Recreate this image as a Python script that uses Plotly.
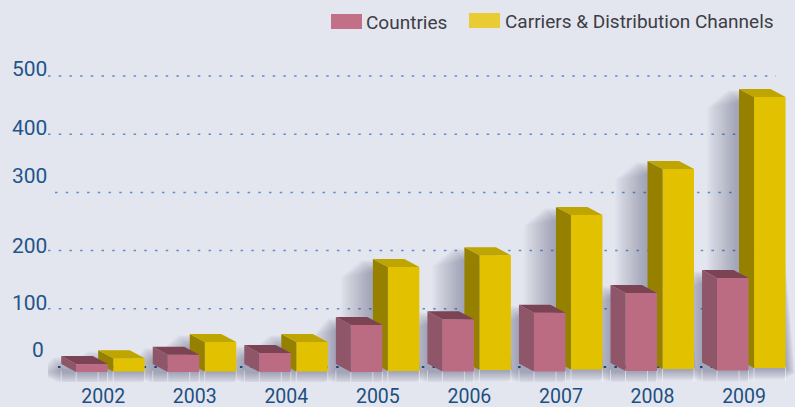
import plotly.graph_objects as go

years = ["2002", "2003", "2004", "2005", "2006", "2007", "2008", "2009"]
countries = [5, 21, 24, 72, 82, 93, 127, 153]
carriers = [15, 43, 43, 172, 192, 261, 340, 464]
countries_base = [-8.5, -8.5, -8.5, -8.5, -7.7, -7.7, -6.9, -6]
carriers_base = [-7.7, -7.7, -7.7, -6.9, -5.2, -4.3, -3.4, -1.7]
y_ticks = [0, 100, 200, 300, 400, 500]
y_label_shift = [17, 6, 5, 16, 6, 7]

W, H = 795, 407
L, R, T, B = 48, 0, 0, 25
PX_X = 91.55
PX_Y = 0.582
C0 = 103.2
Y0 = 367
xr = [(L - C0) / PX_X, (W - R - C0) / PX_X]
yr = [(Y0 - (H - B)) / PX_Y, (Y0 - T) / PX_Y]
xs = list(range(len(years)))
dx, dy = 15 / PX_X, 8 / PX_Y
BW = 31.5 / PX_X
OFF_P = -27 / PX_X
OFF_Y = 10 / PX_X


def poly(points_list):
    X, Y = [], []
    for pts in points_list:
        X += [p[0] for p in pts] + [pts[0][0], None]
        Y += [p[1] for p in pts] + [pts[0][1], None]
    return X, Y


def faces(vals, bases, off, color_side, color_top, axis, name):
    side, top = [], []
    for i, (v, b) in enumerate(zip(vals, bases)):
        l = i + off
        r = l + BW
        side.append([(l, b), (l - dx, b + dy), (l - dx, v + dy), (l, v)])
        top.append([(l, v), (l - dx, v + dy), (r - dx, v + dy), (r, v)])
    out = []
    for pts, col, nm in ((side, color_side, "side"), (top, color_top, "top")):
        X, Y = poly(pts)
        out.append(go.Scatter(x=X, y=Y, fill="toself", fillcolor=col, mode="lines",
                              line=dict(width=0, color=col), yaxis=axis, hoverinfo="skip",
                              showlegend=False, name=f"{name} {nm}"))
    return out


fig = go.Figure()

# soft shadows, lowest layer
for k in range(32, 0, -2):
    a = 0.024
    pts = []
    for vals, bases, off, grow in ((carriers, carriers_base, OFF_Y, 1.0), (countries, countries_base, OFF_P, 0.7)):
        for i, (v, b) in enumerate(zip(vals, bases)):
            l = i + off
            r = l + BW
            ex = k * grow / PX_X
            ey = k * 0.36 / PX_Y
            ytop = v + dy - (14 - 0.4 * k) / PX_Y
            pts.append([(l - dx - ex * 0.35, ytop), (r - dx, ytop), (r + 0.3 * ex, b - ey * 0.5),
                        (r - 0.1 * ex, b - ey), (l - dx, b - ey), (l - dx - ex * 0.8, b - ey * 0.35),
                        (l - dx - ex, b),
                        (l - dx - ex, max(ytop - k * 0.55 / PX_Y, b))])
    X, Y = poly(pts)
    col = f"rgba(50,60,85,{a})"
    fig.add_trace(go.Scatter(x=X, y=Y, fill="toself", fillcolor=col, mode="lines",
                             line=dict(width=0, color=col), hoverinfo="skip", showlegend=False))

# faint reflections under the bars
sx, sy = [], []
for vals, bases, off in ((carriers, carriers_base, OFF_Y), (countries, countries_base, OFF_P)):
    for i, b in enumerate(bases):
        for e in (i + off - dx, i + off, i + off + BW):
            sx += [e, e, None]
            sy += [b + 2, yr[0], None]
fig.add_trace(go.Scatter(x=sx, y=sy, mode="lines", line=dict(color="rgba(245,247,250,0.55)", width=1),
                         hoverinfo="skip", showlegend=False))

for t in faces(carriers, carriers_base, OFF_Y, "#958000", "#bfa500", "y2", "Carriers"):
    fig.add_trace(t)
fig.add_trace(go.Bar(x=xs, y=[v - b for v, b in zip(carriers, carriers_base)], base=carriers_base,
                     width=BW, offset=OFF_Y, marker=dict(color="#e2c200", line=dict(width=0)),
                     name="Carriers & Distribution Channels", yaxis="y2", showlegend=False))
for t in faces(countries, countries_base, OFF_P, "#8f5568", "#7c4355", "y3", "Countries"):
    fig.add_trace(t)
fig.add_trace(go.Bar(x=xs, y=[v - b for v, b in zip(countries, countries_base)], base=countries_base,
                     width=BW, offset=OFF_P, marker=dict(color="#bb6c83", line=dict(width=0)),
                     name="Countries", yaxis="y3", showlegend=False))

shapes = []
for v in y_ticks:
    start = 55 if v == 300 else 58 if v == 0 else 48
    shapes.append(dict(type="line", xref="x", yref="y", layer="below", x0=(start - C0) / PX_X, x1=(776 - C0) / PX_X,
                       y0=v, y1=v,
                       line=dict(color="#1f5590" if v == 0 else "#5b8fd3", width=2 if v == 0 else 1.5,
                                 dash="2.5px,8.2px")))
# legend swatches
shapes.append(dict(type="rect", xref="paper", yref="paper", x0=(331 - L) / (W - L), x1=(362 - L) / (W - L),
                   y0=1 - 29 / (H - B), y1=1 - 14 / (H - B), fillcolor="#c27088", line=dict(width=0)))
shapes.append(dict(type="rect", xref="paper", yref="paper", x0=(469 - L) / (W - L), x1=(500 - L) / (W - L),
                   y0=1 - 28 / (H - B), y1=1 - 13 / (H - B), fillcolor="#e9cb33", line=dict(width=0)))

ann = []
for v, s in zip(y_ticks, y_label_shift):
    ann.append(dict(x=(49 - L) / (W - L) if v else (46 - L) / (W - L), xref="paper", y=v, yref="y", yshift=s,
                    text=str(v), showarrow=False,
                    xanchor="right", yanchor="middle", font=dict(family="Roboto", size=21, color="#23548a")))
ann.append(dict(x=(364 - L) / (W - L), xref="paper", y=1 - 22 / (H - B), yref="paper", text="Countries",
                showarrow=False, xanchor="left", yanchor="middle",
                font=dict(family="Roboto", size=19, color="#3d3d45")))
ann.append(dict(x=(503 - L) / (W - L), xref="paper", y=1 - 21 / (H - B), yref="paper",
                text="Carriers & Distribution Channels", showarrow=False, xanchor="left", yanchor="middle",
                font=dict(family="Roboto", size=19, color="#3d3d45")))

fig.update_layout(
    template="none",
    width=W, height=H, margin=dict(l=L, r=R, t=T, b=B, pad=0),
    paper_bgcolor="#e3e6ee", plot_bgcolor="rgba(0,0,0,0)", barmode="overlay", showlegend=False,
    shapes=shapes, annotations=ann,
    xaxis=dict(range=xr, tickvals=xs, ticktext=years, showgrid=False, zeroline=False, showline=False,
               ticks="", automargin=False, tickfont=dict(family="Roboto", size=19.5, color="#1d4f82"), fixedrange=True),
    yaxis=dict(range=yr, visible=False, fixedrange=True, showgrid=False, zeroline=False, automargin=False),
    yaxis2=dict(range=yr, overlaying="y", visible=False, fixedrange=True, showgrid=False, zeroline=False),
    yaxis3=dict(range=yr, overlaying="y", visible=False, fixedrange=True, showgrid=False, zeroline=False),
)
fig.write_html("out.html", config={"displayModeBar": False},
               post_script="document.body.style.margin='0';document.body.style.background='#e3e6ee';")
